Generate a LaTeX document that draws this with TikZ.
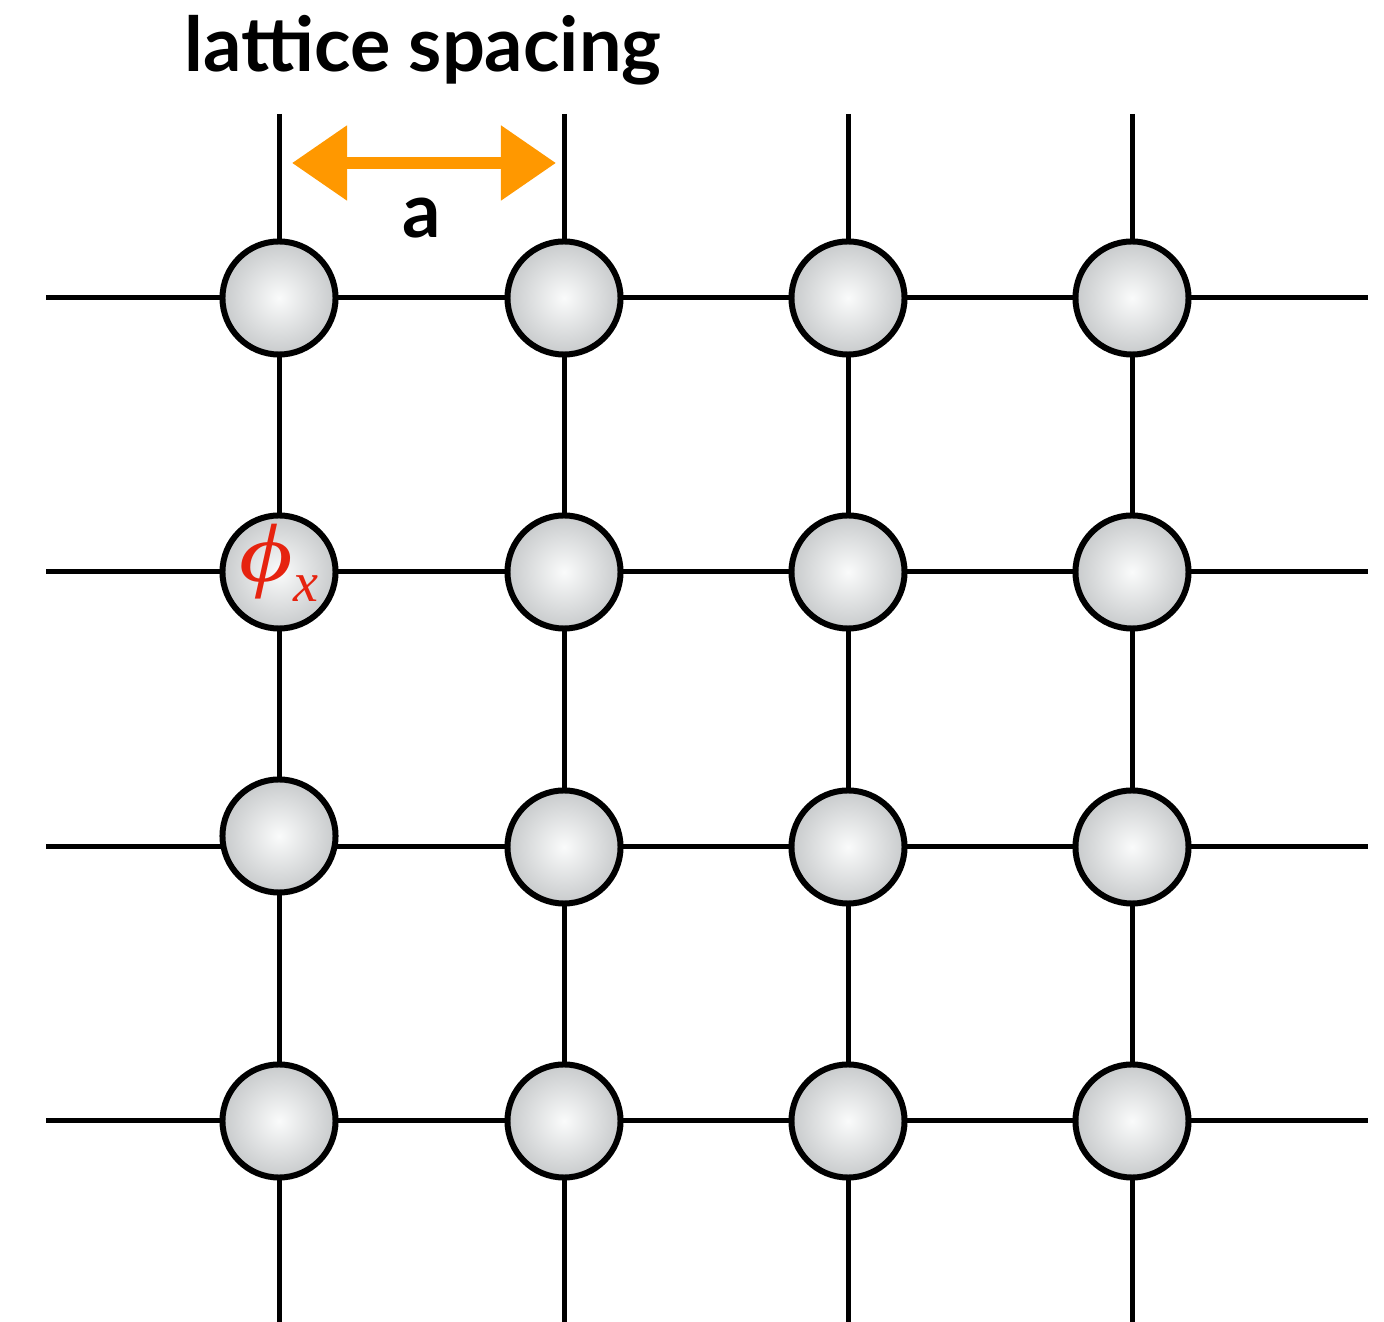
\documentclass[tikz,border=0pt]{standalone}
\usepackage{fontspec}
\setmainfont{Lato}
\newfontfamily\timesfont{Liberation Serif}
\usetikzlibrary{arrows.meta}
\definecolor{ballIn}{RGB}{250,251,251}
\definecolor{ballOut}{RGB}{150,154,157}
\definecolor{arrOrange}{RGB}{255,152,0}
\definecolor{phiRed}{RGB}{230,35,15}
\pgfdeclareradialshading{ballshade}{\pgfpoint{0bp}{0bp}}{%
  color(0bp)=(ballIn); color(4bp)=(ballIn!92!ballOut); color(50bp)=(ballOut); color(80bp)=(ballOut)}
\tikzset{
  gridline/.style={line width=0.05cm, black},
  site/.style={circle, draw=black, line width=0.06cm, minimum size=1.13cm, inner sep=0pt, shading=ballshade},
  hand/.style={font=\fontsize{21.5}{25}\selectfont\bfseries},
  spacing/.style={line width=0.12cm, arrOrange,
    {Triangle[length=0.55cm,width=0.72cm]}-{Triangle[length=0.55cm,width=0.72cm]}}
}
\begin{document}
\begin{tikzpicture}[x=0.01cm,y=-0.01cm]
\useasboundingbox (0,0) rectangle (1384,1322);
% grid line end points
\foreach \r/\y in {1/298,2/572,3/847,4/1121}{
  \coordinate (hL\r) at (46,\y);
  \coordinate (hR\r) at (1368,\y);
  \draw[gridline] (hL\r) -- (hR\r);
}
\foreach \c/\x in {1/279,2/564,3/848,4/1132}{
  \coordinate (vT\c) at (\x,114);
  \coordinate (vB\c) at (\x,1322);
  \draw[gridline] (vT\c) -- (vB\c);
}
% lattice sites
\foreach \c/\x in {1/279,2/564,3/848,4/1132}{
  \foreach \r/\y in {1/298,2/572,3/847,4/1121}{
    \ifnum\c=1 \ifnum\r=3 \else
      \node[site] (n\c\r) at (\x,\y) {};
    \fi\else
      \node[site] (n\c\r) at (\x,\y) {};
    \fi
  }
}
\node[site] (n13) at (279,836) {};
% phi_x label
\node[text=phiRed, anchor=base, inner sep=0pt] (phi) at (279,582)
  {\scalebox{1.25}[1]{\timesfont\itshape\fontsize{23.5}{26}\selectfont ϕ}\raisebox{-0.19cm}{\timesfont\itshape\fontsize{16}{18}\selectfont x}};
% lattice spacing arrow
\coordinate (aL) at (292,163);
\coordinate (aR) at (556,163);
\draw[spacing] (aL) -- (aR);
\node[hand, anchor=base] (title) at (423,72) {lattice spacing};
\node[hand, anchor=base] (alab) at (422,238) {a};
\end{tikzpicture}
\end{document}
